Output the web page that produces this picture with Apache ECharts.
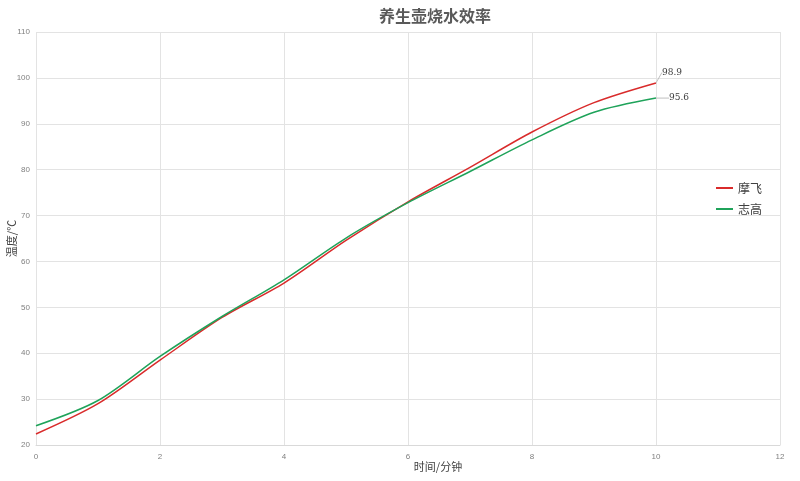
<!DOCTYPE html>
<html>
<head>
<meta charset="utf-8">
<script src="https://cdn.jsdelivr.net/npm/echarts@6/dist/echarts.min.js"></script>
<style>html,body{margin:0;padding:0;background:#fff}#c{width:800px;height:481px}</style>
</head>
<body>
<div id="c"></div>
<script>
var timeMin = [0, 1, 2, 3, 4, 5, 6, 7, 8, 9, 10];
var mofei = [22.4, 29.0, 38.5, 47.8, 55.3, 64.6, 73.0, 80.5, 88.2, 94.6, 98.9];
var zhigao = [24.2, 29.7, 39.3, 48.0, 56.0, 65.1, 72.8, 79.6, 86.5, 92.5, 95.6];
var seriesNames = ['摩飞', '志高'];
var titleText = '养生壶烧水效率';
var xName = '时间/分钟';
var yName = '温度/℃';

function lastLabel(pos) {
  return { show: true, position: pos, fontFamily: 'DejaVu Serif', fontSize: 9, color: '#404040',
    formatter: function (p) { return p.value[1].toFixed(1); } };
}

function toPairs(vals, pos) {
  return vals.map(function (v, i) {
    var item = { value: [timeMin[i], v] };
    if (i === vals.length - 1) {
      item.label = lastLabel(pos);
      item.labelLine = { show: true, lineStyle: { color: '#bfbfbf', width: 1 } };
    }
    return item;
  });
}

var chart = echarts.init(document.getElementById('c'));
chart.setOption({
  animation: false,
  title: {
    text: titleText, left: 430, top: 3, textAlign: 'center',
    textStyle: { fontFamily: 'Noto Sans CJK SC', fontSize: 16, fontWeight: 'bold', color: '#595959' }
  },
  legend: {
    orient: 'vertical', left: 711, top: 177, itemWidth: 17, itemHeight: 2, itemGap: 9,
    icon: 'rect',
    textStyle: { fontFamily: 'Noto Sans CJK SC', fontSize: 12, color: '#404040' },
    data: seriesNames
  },
  grid: { left: 36, right: 20, top: 32, bottom: 36, containLabel: false, outerBoundsMode: 'none' },
  xAxis: {
    type: 'value', min: 0, max: 12, interval: 2,
    name: xName, nameLocation: 'middle', nameGap: 16, nameMoveOverlap: false,
    nameTextStyle: { fontFamily: 'Noto Sans CJK SC', fontSize: 11, color: '#404040', padding: [0, 0, 0, 60] },
    axisLine: { show: true, lineStyle: { color: '#d9d9d9' } },
    axisTick: { show: false },
    axisLabel: { fontSize: 8, color: '#808080', margin: 8 },
    splitLine: { show: true, lineStyle: { color: '#e3e3e3' } }
  },
  yAxis: {
    type: 'value', min: 20, max: 110, interval: 10,
    name: yName, nameLocation: 'middle', nameGap: 19, nameRotate: 90, nameMoveOverlap: false,
    nameTextStyle: { fontFamily: 'Noto Sans CJK SC', fontSize: 11, color: '#404040' },
    axisLine: { show: false },
    axisTick: { show: false },
    axisLabel: { fontSize: 8, color: '#808080', margin: 6 },
    splitLine: { show: true, lineStyle: { color: '#e3e3e3' } }
  },
  series: [
    {
      name: seriesNames[0], type: 'line', smooth: 0.3, showSymbol: true, symbol: 'circle', symbolSize: 0.01,
      lineStyle: { color: '#d92b2b', width: 1.5 }, itemStyle: { color: '#d92b2b' },
      data: toPairs(mofei, 'top'),
      labelLayout: function (p) { return p.dataIndex === mofei.length - 1 ? { dx: 16, dy: -1 } : {}; }
    },
    {
      name: seriesNames[1], type: 'line', smooth: 0.3, showSymbol: true, symbol: 'circle', symbolSize: 0.01,
      lineStyle: { color: '#1fa35a', width: 1.5 }, itemStyle: { color: '#1fa35a' },
      data: toPairs(zhigao, 'right'),
      labelLayout: function (p) { return p.dataIndex === zhigao.length - 1 ? { dx: 8, dy: 0 } : {}; }
    }
  ]
});
</script>
</body>
</html>
